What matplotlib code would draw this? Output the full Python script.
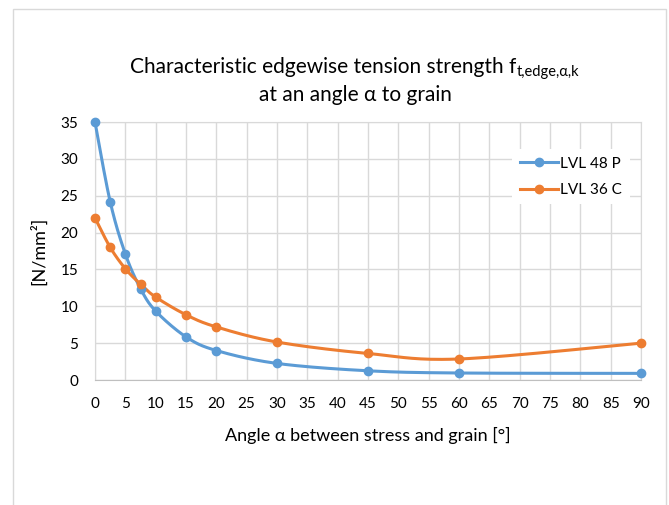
import matplotlib
matplotlib.use('Agg')
import matplotlib.pyplot as plt
import matplotlib.patches as patches
import numpy as np

plt.rcParams['font.family'] = ['Lato', 'DejaVu Sans']

# data
angles = [0, 2.5, 5, 7.5, 10, 15, 20, 30, 45, 60, 90]
lvl48p = [35.0, 24.2, 17.1, 12.4, 9.35, 5.85, 4.0, 2.25, 1.25, 0.95, 0.9]
lvl36c = [22.0, 18.0, 15.1, 13.0, 11.25, 8.85, 7.2, 5.15, 3.6, 2.85, 5.0]
series_names = ['LVL 48 P', 'LVL 36 C']
colors = ['#5B9BD5', '#ED7D31']
x_ticks = list(range(0, 95, 5))
y_ticks = list(range(0, 40, 5))


def smooth(xs, ys, n=30):
    # Excel-like smoothed line: Catmull-Rom -> cubic bezier
    p = np.column_stack([xs, ys]).astype(float)
    p = np.vstack([p[0], p, p[-1]])
    out = []
    t = np.linspace(0, 1, n)[:, None]
    for i in range(1, len(p) - 2):
        p0, p1, p2, p3 = p[i - 1], p[i], p[i + 1], p[i + 2]
        c1 = p1 + (p2 - p0) / 6
        c2 = p2 - (p3 - p1) / 6
        seg = ((1 - t) ** 3) * p1 + 3 * ((1 - t) ** 2) * t * c1 + 3 * (1 - t) * t ** 2 * c2 + t ** 3 * p2
        out.append(seg if i == 1 else seg[1:])
    out = np.vstack(out)
    return out[:, 0], out[:, 1]


fig = plt.figure(figsize=(6.69, 5.05), dpi=100)
W, H = 669, 505

# chart area border
fig.patches.append(patches.Rectangle((12.5 / W, -0.1), (666 - 12.5) / W, (H - 8.5) / H + 0.1,
                                     transform=fig.transFigure, fill=False,
                                     edgecolor='#D9D9D9', linewidth=1))

ax = fig.add_axes([95 / W, (H - 380) / H, (641 - 95) / W, (380 - 122) / H])

handles = []
for ys, name, c in zip([lvl48p, lvl36c], series_names, colors):
    sx, sy = smooth(angles, ys)
    ax.plot(sx, sy, color=c, linewidth=2.2, solid_capstyle='round', clip_on=False, zorder=3)
    ax.plot(angles, ys, linestyle='none', marker='o', markersize=6, color=c, clip_on=False, zorder=4)
    h, = ax.plot([], [], color=c, linewidth=2.2, marker='o', markersize=6)
    handles.append(h)

ax.set_xlim(0, 90)
ax.set_ylim(0, 35)
ax.set_xticks(x_ticks)
ax.set_yticks(y_ticks)
ax.grid(True, color='#D9D9D9', linewidth=1)
ax.set_axisbelow(True)
for s in ax.spines.values():
    s.set_color('#D9D9D9')
ax.spines['bottom'].set_color('#BFBFBF')
ax.tick_params(length=0, labelsize=11, colors='#000000', pad=12)
ax.tick_params(axis='y', pad=12)

ax.set_xlabel('Angle α between stress and grain [°]', fontsize=13, labelpad=12)
ax.set_ylabel('[N/mm²]', fontsize=13, labelpad=10)

leg = ax.legend(handles, series_names, loc='upper right', bbox_to_anchor=(0.993, 0.925),
                frameon=True, fontsize=11, handlelength=2.5, handletextpad=0.15,
                labelspacing=0.8, borderpad=0.5)
leg.get_frame().set_facecolor('white')
leg.get_frame().set_edgecolor('none')
leg.get_frame().set_alpha(1)

# title with subscript
fig.canvas.draw()
r = fig.canvas.get_renderer()
main = fig.text(0, 1 - 67 / H, 'Characteristic edgewise tension strength f', fontsize=15,
                ha='left', va='center')
sub = fig.text(0, 1 - 72 / H, 't,edge,α,k', fontsize=10.5, ha='left', va='center')
w1 = main.get_window_extent(r).width
w2 = sub.get_window_extent(r).width
x0 = 354 - (w1 + w2) / 2
main.set_x(x0 / W)
sub.set_x((x0 + w1 + 1) / W)
fig.text(355 / W, 1 - 95 / H, 'at an angle α to grain', fontsize=15, ha='center', va='center')

fig.savefig('out.png', dpi=100)
